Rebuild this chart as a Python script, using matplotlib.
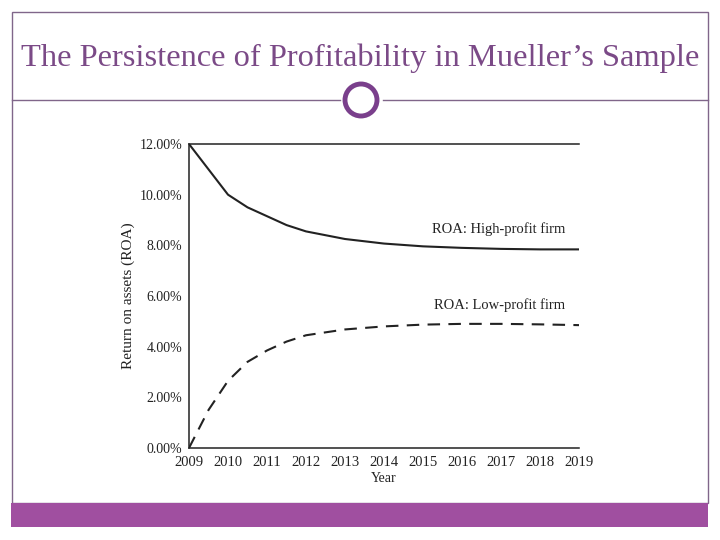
import matplotlib
matplotlib.use("Agg")
import matplotlib.pyplot as plt
from matplotlib.patches import Rectangle, Ellipse
from matplotlib.lines import Line2D
from matplotlib.ticker import FuncFormatter

# data (ROA in %)
years_high = [2009, 2009.5, 2010, 2010.5, 2011, 2011.5, 2012, 2013, 2014, 2015, 2016, 2017, 2018, 2019]
roa_high = [12.0, 11.0, 10.0, 9.5, 9.15, 8.8, 8.55, 8.25, 8.07, 7.96, 7.9, 7.86, 7.84, 7.84]
years_low = [2009, 2009.5, 2010, 2010.5, 2011, 2011.5, 2012, 2013, 2014, 2015, 2016, 2017, 2018, 2019]
roa_low = [0.0, 1.5, 2.65, 3.4, 3.85, 4.2, 4.45, 4.68, 4.8, 4.87, 4.9, 4.9, 4.88, 4.85]
year_ticks = list(range(2009, 2020))
marked_years = [2010, 2013, 2014, 2015, 2018]
pct_ticks = [0, 2, 4, 6, 8, 10, 12]

title = "The Persistence of Profitability in Mueller\u2019s Sample"
label_high = "ROA: High-profit firm"
label_low = "ROA: Low-profit firm"

purple = "#7b4a87"
frame_col = "#80668a"
bar_col = "#a04fa0"
ink = "#222222"

plt.rcParams['font.family'] = ['Liberation Serif', 'DejaVu Serif']

fig = plt.figure(figsize=(7.2, 5.4), dpi=100)
W, H = 720.0, 540.0

# slide frame
fig.add_artist(Rectangle((12 / W, 1 - 503 / H), 696 / W, 491 / H, transform=fig.transFigure,
                         fill=False, edgecolor=frame_col, linewidth=1))
fig.add_artist(Rectangle((11 / W, 1 - 527 / H), 697 / W, 24 / H, transform=fig.transFigure,
                         facecolor=bar_col, edgecolor="none"))
fig.add_artist(Line2D([12 / W, 340 / W], [1 - 100 / H] * 2, transform=fig.transFigure,
                      color=frame_col, linewidth=1))
fig.add_artist(Line2D([383 / W, 708 / W], [1 - 100 / H] * 2, transform=fig.transFigure,
                      color=frame_col, linewidth=1))
fig.add_artist(Ellipse((361 / W, 1 - 100 / H), 32 / W, 32 / H, transform=fig.transFigure,
                       fill=False, edgecolor="#7a3f8c", linewidth=3.5))
fig.text(360 / W, 1 - 58 / H, title, ha="center", va="center", fontsize=23.4, color=purple)

ax = fig.add_axes([189 / W, 1 - 448 / H, 390 / W, 304 / H])
ax.plot(years_high, roa_high, color=ink, linewidth=1.5)
ax.plot(years_low, roa_low, color=ink, linewidth=1.5, linestyle=(0, (6, 4)))

ax.set_xlim(2009, 2019)
ax.set_ylim(0, 12)
ax.set_xticks(year_ticks)
ax.set_xticks(marked_years, minor=True)
ax.tick_params(axis="x", which="major", length=0, pad=6, labelsize=10.5, labelcolor=ink)
ax.tick_params(axis="x", which="minor", direction="in", length=4, color=ink)
ax.set_yticks(pct_ticks)
ax.yaxis.set_major_formatter(FuncFormatter(lambda v, p: "%.2f%%" % v))
ax.tick_params(axis="y", length=0, pad=5, labelsize=10, labelcolor=ink)

ax.spines["right"].set_visible(False)
for s in ["left", "bottom", "top"]:
    ax.spines[s].set_color(ink)
    ax.spines[s].set_linewidth(1.1)

ax.set_xlabel("Year", fontsize=10, color=ink, labelpad=2)
ax.set_ylabel("Return on assets (ROA)", fontsize=11, color=ink, labelpad=3)

ax.text(2018.65, 8.35, label_high, ha="right", va="bottom", fontsize=10.5, color=ink)
ax.text(2018.65, 5.35, label_low, ha="right", va="bottom", fontsize=10.5, color=ink)

fig.savefig("out.png", dpi=100)
